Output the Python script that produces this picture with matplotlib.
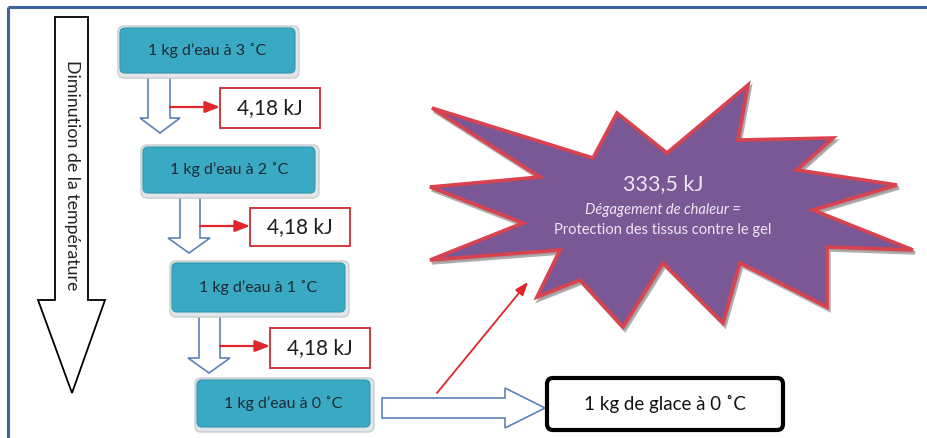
import matplotlib
matplotlib.use("Agg")
import matplotlib.pyplot as plt
from matplotlib.patches import FancyBboxPatch, Polygon, Rectangle

# ---- data ----
water_labels = ["1 kg d\u2019eau à 3 \u02daC", "1 kg d\u2019eau à 2 \u02daC",
                "1 kg d\u2019eau à 1 \u02daC", "1 kg d\u2019eau à 0 \u02daC"]
energy_labels = ["4,18 kJ", "4,18 kJ", "4,18 kJ"]
ice_label = "1 kg de glace à 0 \u02daC"
star_value = "333,5 kJ"
star_line1 = "Dégagement de chaleur ="
star_line2 = "Protection des tissus contre le gel"
axis_label = "Diminution de la température"

FONT = ["Lato", "DejaVu Sans"]
plt.rcParams["font.family"] = FONT

fig = plt.figure(figsize=(9.28, 4.38), dpi=100)
ax = fig.add_axes([0, 0, 1, 1])
ax.set_xlim(0, 928)
ax.set_ylim(438, 0)
ax.axis("off")

# frame (top and left blue lines)
ax.plot([8, 928], [7, 7], color="#3B63A6", lw=2.2, solid_capstyle="butt")
ax.plot([8, 8], [7, 438], color="#3B63A6", lw=2.2, solid_capstyle="butt")

# big down arrow on the left
big = [(55, 17), (88, 17), (88, 300), (105, 300), (72, 393), (38, 300), (55, 300)]
ax.add_patch(Polygon(big, closed=True, fc="white", ec="black", lw=1.3, joinstyle="miter"))
ax.text(72, 175, axis_label, rotation=-90, ha="center", va="center", fontsize=12.8,
        color="#222222")

# teal boxes
TEAL = "#3AA9C3"
boxes = [(120, 28, 175, 45), (143, 147, 172, 46), (172, 263, 173, 49), (197, 380, 173, 47)]
for (x, y, w, h), lab in zip(boxes, water_labels):
    ax.add_patch(FancyBboxPatch((x - 2, y - 2), w + 6, h + 7,
                                boxstyle="round,pad=0,rounding_size=6",
                                fc="#E3E6E8", ec="#C9CED2", lw=1.0, zorder=2))
    ax.add_patch(FancyBboxPatch((x, y), w, h, boxstyle="round,pad=0,rounding_size=5",
                                fc=TEAL, ec="#2F97B0", lw=0.8, zorder=3))
    ax.text(x + w / 2, y + h / 2, lab, ha="center", va="center", fontsize=11.5,
            color="#1E2A33", zorder=4)

# hollow down arrows between boxes
BLUE = "#5B82B8"
darrows = [(148, 170, 73, 118, 140, 180, 133), (180, 200, 193, 238, 168, 210, 253),
           (199, 220, 312, 358, 188, 230, 373)]
for (sx0, sx1, y0, yh, hx0, hx1, ytip) in darrows:
    pts = [(sx0, y0), (sx1, y0), (sx1, yh), (hx1, yh), ((hx0 + hx1) / 2, ytip),
           (hx0, yh), (sx0, yh)]
    ax.add_patch(Polygon(pts, closed=True, fc="white", ec=BLUE, lw=1.2, zorder=1))

# red arrows and energy boxes
RED = "#E0252B"
rows = [(170, 107, 220, 88, 100, 40), (200, 226, 250, 208, 100, 38),
        (220, 346, 270, 328, 100, 40)]
for (x0, y, bx, by, bw, bh), lab in zip(rows, energy_labels):
    ax.annotate("", xy=(bx, y), xytext=(x0, y),
                arrowprops=dict(arrowstyle="-|>,head_length=0.9,head_width=0.35",
                                color=RED, lw=1.6, shrinkA=0, shrinkB=0), zorder=3)
    ax.add_patch(Rectangle((bx, by), bw, bh, fc="white", ec="#D03A3F", lw=1.4, zorder=3))
    ax.text(bx + bw / 2, by + bh / 2, lab, ha="center", va="center", fontsize=15,
            color="#1E1E1E", zorder=4)

# horizontal hollow arrow to ice box
harrow = [(382, 398), (505, 398), (505, 388), (545, 408), (505, 428), (505, 418), (382, 418)]
ax.add_patch(Polygon(harrow, closed=True, fc="white", ec=BLUE, lw=1.2, zorder=2))

# ice box
ax.add_patch(FancyBboxPatch((547, 378), 236, 52, boxstyle="round,pad=0,rounding_size=6",
                            fc="white", ec="black", lw=3.0, zorder=3))
ax.text(665, 404, ice_label, ha="center", va="center", fontsize=13.5, color="#111111",
        zorder=4)

# red thin arrow to star
ax.annotate("", xy=(528, 282), xytext=(437, 393),
            arrowprops=dict(arrowstyle="-|>,head_length=0.8,head_width=0.3",
                            color=RED, lw=1.3, shrinkA=0, shrinkB=0), zorder=3)

# star
star = [(432, 108), (593, 158), (617, 113), (667, 153), (748, 85), (738, 140),
        (833, 138), (797, 170), (897, 185), (813, 210), (913, 250), (827, 247),
        (827, 307), (740, 263), (723, 323), (663, 263), (623, 327), (580, 280),
        (537, 297), (560, 250), (430, 260), (523, 223), (430, 187), (540, 177)]
shadow = [(x + 2, y + 3) for x, y in star]
ax.add_patch(Polygon(shadow, closed=True, fc="#9A8FA0", ec="#A09A9A", lw=2.5, zorder=4,
                     alpha=0.8))
ax.add_patch(Polygon(star, closed=True, fc="#7A5895", ec="#D9434F", lw=2.6, zorder=5,
                     joinstyle="miter"))
TXT = "#EFE6F5"
ax.text(663, 184, star_value, ha="center", va="center", fontsize=15.5, color=TXT, zorder=6)
ax.text(663, 210, star_line1, ha="center", va="center", fontsize=10.5, style="italic",
        color=TXT, zorder=6)
ax.text(663, 230, star_line2, ha="center", va="center", fontsize=10.5, color=TXT, zorder=6)

fig.savefig("out.png", dpi=100)
